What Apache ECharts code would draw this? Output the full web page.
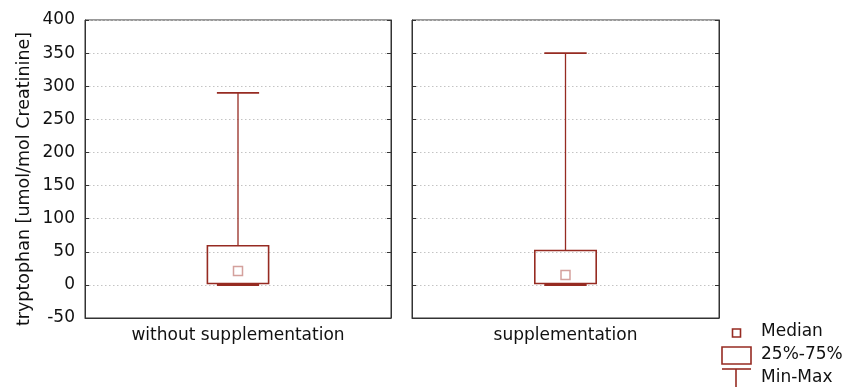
<!DOCTYPE html>
<html><head><meta charset="utf-8">
<script src="https://cdn.jsdelivr.net/npm/echarts@6/dist/echarts.min.js"></script>
<style>html,body{margin:0;padding:0;background:#fff}#c{width:859px;height:387px}</style>
</head><body><div id="c"></div>
<script>
const categories = ['without supplementation', 'supplementation'];
const minVals = [0, 0];
const q1Vals = [2, 2];
const medianVals = [21, 15];
const q3Vals = [59, 52];
const maxVals = [290, 350];
const yTicks = [-50, 0, 50, 100, 150, 200, 250, 300, 350, 400];
const legendLabels = ['Median', '25%-75%', 'Min-Max'];

const BOX = '#962b22';
const MED = '#c98a84';
const FONT = 'DejaVu Sans, sans-serif';

const chart = echarts.init(document.getElementById('c'));
const grids = [
  {left: 85, top: 20, width: 306, height: 298, show: true, borderColor: '#333', borderWidth: 1},
  {left: 412, top: 20, width: 307, height: 298, show: true, borderColor: '#333', borderWidth: 1}
];
const xAxes = categories.map((c, i) => ({
  type: 'category', gridIndex: i, data: [c], boundaryGap: true,
  axisLine: {onZero: false, lineStyle: {color: '#333'}},
  axisTick: {inside: true, alignWithLabel: true, length: 3, lineStyle: {color: '#333'}},
  axisLabel: {color: '#111', fontSize: 17, fontFamily: FONT, margin: 9}
}));
function yAx(gi, pos, labels, split) {
  return {
    type: 'value', gridIndex: gi, position: pos, min: yTicks[0], max: yTicks[yTicks.length-1], interval: 50,
    axisLine: {show: true, onZero: false, lineStyle: {color: '#333'}},
    axisTick: {show: true, inside: true, length: 4, lineStyle: {color: '#333'}},
    axisLabel: {show: labels, color: '#111', fontSize: 17, fontFamily: FONT, margin: 10},
    splitLine: {show: split, lineStyle: {color: '#c4c4c4', type: [1.5, 2.5], width: 1}}
  };
}
const yAxes = [yAx(0,'left',true,true), yAx(0,'right',false,false), yAx(1,'left',false,true), yAx(1,'right',false,false)];

const series = [];
categories.forEach((c, i) => {
  series.push({
    type: 'custom', xAxisIndex: i, yAxisIndex: i*2,
    data: [[0, minVals[i], q1Vals[i], q3Vals[i], maxVals[i]]],
    renderItem: function (params, api) {
      const x = api.value(0);
      const band = api.size([1, 0])[0];
      const cx = api.coord([x, 0])[0];
      const yMin = api.coord([x, api.value(1)])[1];
      const yQ1 = api.coord([x, api.value(2)])[1];
      const yQ3 = api.coord([x, api.value(3)])[1];
      const yMax = api.coord([x, api.value(4)])[1];
      const bw = band * 0.2, cw = band * 0.138;
      return {type: 'group', children: [
        {type: 'line', shape: {x1: cx, y1: yQ3, x2: cx, y2: yMax}, style: {stroke: BOX, lineWidth: 1.3}},
        {type: 'line', shape: {x1: cx - cw/2, y1: yMax, x2: cx + cw/2, y2: yMax}, style: {stroke: BOX, lineWidth: 1.8}},
        {type: 'line', shape: {x1: cx - cw/2, y1: yMin, x2: cx + cw/2, y2: yMin}, style: {stroke: BOX, lineWidth: 2}},
        {type: 'rect', shape: {x: cx - bw/2, y: yQ3, width: bw, height: yQ1 - yQ3}, style: {fill: 'none', stroke: BOX, lineWidth: 1.6}}
      ]};
    }
  });
  series.push({
    type: 'scatter', xAxisIndex: i, yAxisIndex: i*2,
    data: [[0, medianVals[i]]], symbol: 'rect', symbolSize: 9,
    itemStyle: {color: 'none', borderColor: MED, borderWidth: 1.5}
  });
});

const graphic = [
  {type: 'text', x: 24, y: 179, rotation: Math.PI/2, style: {text: 'tryptophan [umol/mol Creatinine]', fontSize: 17.5, fontFamily: FONT, fill: '#111', align: 'center', verticalAlign: 'middle'}},
  {type: 'rect', shape: {x: 732.5, y: 329, width: 8, height: 8}, style: {fill: 'none', stroke: BOX, lineWidth: 1.6}},
  {type: 'rect', shape: {x: 722, y: 347, width: 29, height: 17}, style: {fill: 'none', stroke: BOX, lineWidth: 1.6}},
  {type: 'line', shape: {x1: 722, y1: 369, x2: 751, y2: 369}, style: {stroke: BOX, lineWidth: 1.6}},
  {type: 'line', shape: {x1: 736, y1: 369, x2: 736, y2: 387}, style: {stroke: BOX, lineWidth: 1.6}}
];
legendLabels.forEach((t, k) => {
  graphic.push({type: 'text', x: 761, y: 332 + k*23, style: {text: t, fontSize: 17, fontFamily: FONT, fill: '#111', verticalAlign: 'middle'}});
});

chart.setOption({
  animation: false,
  grid: grids, xAxis: xAxes, yAxis: yAxes, series: series, graphic: graphic
});
</script></body></html>
